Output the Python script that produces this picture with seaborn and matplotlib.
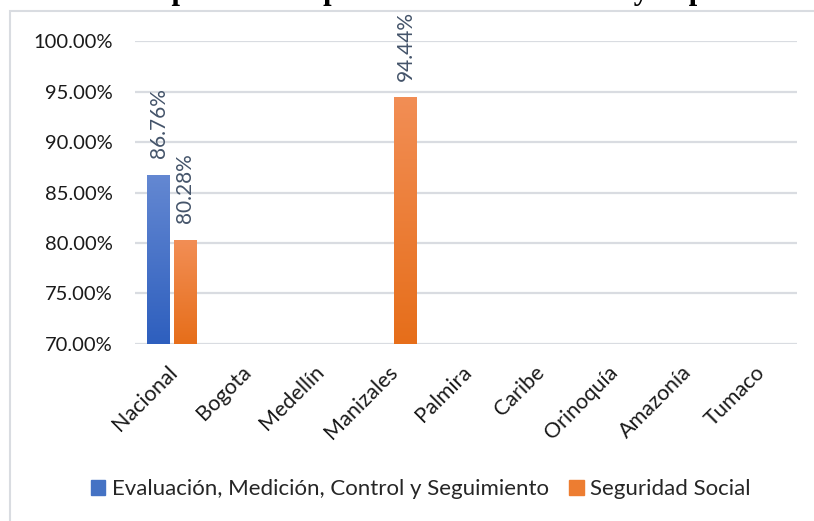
import numpy as np
import pandas as pd
import matplotlib
matplotlib.use("Agg")
import matplotlib.pyplot as plt
import matplotlib.patches as mpatches
import matplotlib.transforms as mtransforms
from matplotlib.colors import LinearSegmentedColormap
import seaborn as sns

# Regions (x axis) and the two process series
regions = ["Nacional", "Bogota", "Medellín", "Manizales", "Palmira",
           "Caribe", "Orinoquía", "Amazonía", "Tumaco"]
series = ["Evaluación, Medición, Control y Seguimiento", "Seguridad Social"]

# Measured performance (%) per region and series
eval_regions = ["Nacional"]
eval_values = [86.76]
seg_regions = ["Nacional", "Manizales"]
seg_values = [80.28, 94.44]

y_ticks = [70, 75, 80, 85, 90, 95, 100]
title = "Desempeño de los procesos de Evaluación y Especiales"

df = pd.concat([
    pd.DataFrame({"region": eval_regions, "serie": series[0], "valor": eval_values}),
    pd.DataFrame({"region": seg_regions, "serie": series[1], "valor": seg_values}),
], ignore_index=True)

base_colors = {series[0]: "#4472C4", series[1]: "#ED7D31"}
grad_colors = {series[0]: ("#2E5FBE", "#6488D2"), series[1]: ("#E66E1A", "#F28E55")}

sns.set_style("white")
plt.rcParams["font.family"] = ["Lato", "DejaVu Sans"]

fig = plt.figure(figsize=(8.14, 5.21), dpi=100)
ax = fig.add_axes([0.166, 0.340, 0.813, 0.581])

sns.barplot(data=df, x="region", y="valor", hue="serie", order=regions,
            hue_order=series, palette=base_colors, width=0.72, gap=0.14,
            ax=ax, legend=False, errorbar=None)

ax.set_ylim(70, 100)
ax.set_xlim(-0.5, len(regions) - 0.5)
ax.set_yticks(y_ticks)
ax.set_yticklabels([f"{t:.2f}%" for t in y_ticks], fontsize=14.5, color="#1a1a1a")
ax.set_xticks(range(len(regions)))
ax.set_xticklabels(regions, rotation=45, ha="right", rotation_mode="anchor",
                   fontsize=15.5, color="#1a1a1a")
ax.tick_params(axis="y", length=0, pad=16)
ax.tick_params(axis="x", length=0, pad=13)
# nudge the slanted category labels a little to the left
shift = mtransforms.ScaledTranslation(-5 / 100, 0, fig.dpi_scale_trans)
for lbl in ax.get_xticklabels():
    lbl.set_transform(lbl.get_transform() + shift)
ax.set_xlabel("")
ax.set_ylabel("")
for s in ax.spines.values():
    s.set_visible(False)
ax.yaxis.grid(True, color="#D9DCE1", linewidth=1.6)
ax.set_axisbelow(True)

# Vertical gradient fill for each bar, plus data labels
for container, name in zip(ax.containers, series):
    lo, hi = grad_colors[name]
    cmap = LinearSegmentedColormap.from_list(name, [lo, hi])
    grad = np.linspace(0, 1, 256).reshape(-1, 1)
    for bar in container:
        h = bar.get_height()
        if not np.isfinite(h):
            continue
        x0, w = bar.get_x(), bar.get_width()
        img = ax.imshow(grad, extent=[x0, x0 + w, 70, h], origin="lower",
                        cmap=cmap, aspect="auto", zorder=2)
        img.set_clip_path(bar)
        bar.set_facecolor("none")
        bar.set_edgecolor("none")
    ax.bar_label(container, labels=[f"{v:.2f}%" if np.isfinite(v) else ""
                                    for v in container.datavalues],
                 rotation=90, padding=12, fontsize=15, color="#44546A")

ax.set_xlim(-0.5, len(regions) - 0.5)
ax.set_ylim(70, 100)

# Legend below the axes
handles = [mpatches.Patch(color=base_colors[s], label=s) for s in series]
fig.legend(handles=handles, loc="center", bbox_to_anchor=(0.517, 0.061), ncol=2,
           frameon=False, fontsize=16, handlelength=0.65, handleheight=0.65,
           handletextpad=0.3, columnspacing=0.9)

# Chart area frame
fig.add_artist(mpatches.Rectangle((10 / 814, -0.05), 1.0, 1 - 11 / 521 + 0.05,
                                  transform=fig.transFigure, fill=False,
                                  edgecolor="#D9DCE1", linewidth=1.5))

# Title sits partly above the canvas edge
fig.text(85 / 814, 1 + 1 / 521, title, ha="left", va="baseline",
         fontsize=22, fontweight="bold", family="Liberation Serif", color="#000000")

fig.savefig("out.png", dpi=100)
